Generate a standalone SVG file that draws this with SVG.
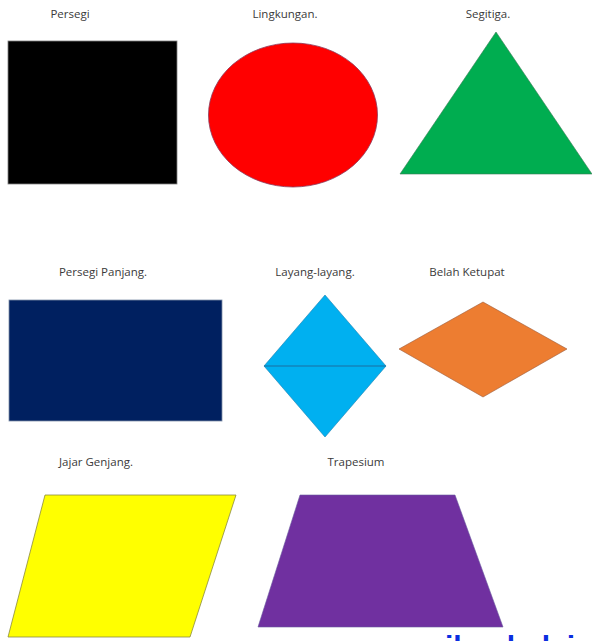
<svg xmlns="http://www.w3.org/2000/svg" width="592" height="641" viewBox="0 0 592 641">
<style>
.lbl{font-family:"Open Sans","Liberation Sans",sans-serif;font-size:11.5px;fill:#3a3a3a;text-anchor:middle}
</style>
<rect width="592" height="641" fill="#ffffff"/>
<g id="persegi">
<text class="lbl" x="70" y="18">Persegi</text>
<rect x="8" y="41" width="169" height="143" fill="#000000" stroke="#7f7f7f" stroke-width="0.8"/>
</g>
<g id="lingkungan">
<text class="lbl" x="285" y="18">Lingkungan.</text>
<ellipse cx="293" cy="115" rx="84.5" ry="72" fill="#ff0000" stroke="#8a3a5a" stroke-width="0.8"/>
</g>
<g id="segitiga">
<text class="lbl" x="488" y="18">Segitiga.</text>
<polygon points="496,32 400,174 592,174" fill="#00ad50" stroke="#3a7a55" stroke-width="0.6"/>
</g>
<g id="persegi-panjang">
<text class="lbl" x="103" y="276">Persegi Panjang.</text>
<rect x="9" y="300" width="213" height="121" fill="#002060" stroke="#7f8fa8" stroke-width="0.8"/>
</g>
<g id="layang-layang">
<text class="lbl" x="315" y="276">Layang-layang.</text>
<polygon points="325,295 386,366 325,437 264,366" fill="#00b0f0" stroke="#1a7fb0" stroke-width="0.6"/>
<line x1="264" y1="366" x2="386" y2="366" stroke="#1a6fa0" stroke-width="1.2"/>
</g>
<g id="belah-ketupat">
<text class="lbl" x="467" y="276">Belah Ketupat</text>
<polygon points="483,302 567,349 483,397 399,349" fill="#ed7d31" stroke="#9a5a3a" stroke-width="0.6"/>
</g>
<g id="jajar-genjang">
<text class="lbl" x="96" y="466">Jajar Genjang.</text>
<polygon points="45,495 236,495 190,637 8,637" fill="#ffff00" stroke="#8a8a40" stroke-width="0.8"/>
</g>
<g id="trapesium">
<text class="lbl" x="356" y="466">Trapesium</text>
<polygon points="300,495 455,495 503,627 258,627" fill="#7030a0" stroke="#6a5aa0" stroke-width="0.6"/>
</g>
<g id="connectors"></g>
<text x="445" y="657" font-family="'Liberation Sans',sans-serif" font-weight="bold" font-size="30" fill="#0a2ee0">ilmubelajar</text>
</svg>
